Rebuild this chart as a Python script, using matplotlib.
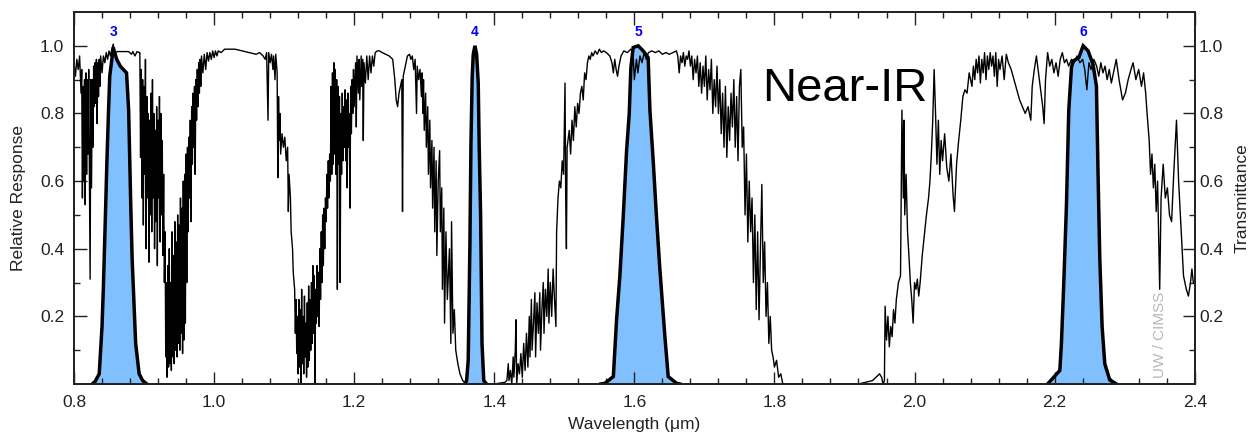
import numpy as np
import matplotlib
matplotlib.use('Agg')
import matplotlib.pyplot as plt
from matplotlib.ticker import MultipleLocator, FixedLocator, FormatStrFormatter

plt.rcParams['font.family'] = ['Liberation Sans', 'DejaVu Sans']

# spectral response of the near-IR bands (wavelength in um, relative response)
band_names = ['3', '4', '5', '6']

band3_wl = [0.826, 0.830, 0.836, 0.840, 0.842, 0.845, 0.847, 0.849, 0.851, 0.854, 0.856,
            0.861, 0.866, 0.875, 0.878, 0.881, 0.883, 0.888, 0.893, 0.898, 0.904]
band3_rsr = [0.0, 0.007, 0.03, 0.17, 0.29, 0.51, 0.66, 0.79, 0.91, 0.96, 0.995,
             0.96, 0.94, 0.92, 0.81, 0.53, 0.37, 0.12, 0.03, 0.01, 0.0]

band4_wl = [1.358, 1.3605, 1.3628, 1.3652, 1.3667, 1.3685, 1.370, 1.3724, 1.3748, 1.3771,
            1.3785, 1.3805, 1.3825, 1.385, 1.389]
band4_rsr = [0.0, 0.01, 0.07, 0.41, 0.71, 0.91, 0.975, 1.0, 0.975, 0.89,
             0.70, 0.50, 0.12, 0.01, 0.0]

band5_wl = [1.552, 1.558, 1.570, 1.5746, 1.5793, 1.584, 1.5889, 1.5927, 1.595, 1.5983, 1.6055,
            1.6126, 1.6197, 1.6222, 1.6269, 1.6317, 1.6364, 1.6436, 1.6483, 1.6603, 1.665]
band5_rsr = [0.0, 0.002, 0.022, 0.19, 0.32, 0.49, 0.69, 0.80, 0.935, 0.995, 1.0,
             0.985, 0.965, 0.81, 0.66, 0.49, 0.34, 0.14, 0.022, 0.002, 0.0]

band6_wl = [2.190, 2.193, 2.2074, 2.2097, 2.2131, 2.2169, 2.2202, 2.224, 2.2264, 2.2345,
            2.2407, 2.2478, 2.2549, 2.2597, 2.2621, 2.2645, 2.2678, 2.2716, 2.2787, 2.2883]
band6_rsr = [0.0, 0.007, 0.04, 0.12, 0.30, 0.53, 0.81, 0.935, 0.955, 0.965,
             1.0, 0.985, 0.945, 0.88, 0.61, 0.37, 0.17, 0.06, 0.012, 0.0]

# atmospheric transmittance (wavelength, transmittance)
transmittance = [
    (0.800, 0.95), (0.802, 0.91), (0.804, 0.96), (0.806, 0.93), (0.808, 0.97), (0.810, 0.86),
    (0.811, 0.93), (0.812, 0.55), (0.813, 0.88), (0.814, 0.60), (0.815, 0.90), (0.816, 0.53),
    (0.817, 0.92), (0.818, 0.62), (0.819, 0.90), (0.820, 0.68), (0.821, 0.93), (0.822, 0.60),
    (0.823, 0.31), (0.824, 0.90), (0.825, 0.58), (0.826, 0.90), (0.827, 0.70), (0.828, 0.94),
    (0.829, 0.82), (0.830, 0.95), (0.831, 0.83), (0.832, 0.96), (0.833, 0.77), (0.834, 0.95),
    (0.835, 0.85), (0.836, 0.96), (0.837, 0.88), (0.838, 0.97), (0.840, 0.92), (0.842, 0.97),
    (0.844, 0.95), (0.846, 0.98), (0.848, 0.96), (0.850, 0.985), (0.852, 0.97), (0.854, 0.99),
    (0.856, 1.005), (0.858, 0.98), (0.862, 0.983), (0.870, 0.983), (0.878, 0.983), (0.882, 0.975),
    (0.884, 0.983), (0.887, 0.97), (0.890, 0.983), (0.893, 0.98), (0.894, 0.98), (0.895, 0.67),
    (0.896, 0.93), (0.897, 0.55), (0.898, 0.90), (0.899, 0.47), (0.900, 0.88), (0.901, 0.62),
    (0.902, 0.96), (0.903, 0.40), (0.904, 0.85), (0.905, 0.55), (0.906, 0.80), (0.907, 0.36),
    (0.908, 0.78), (0.909, 0.50), (0.910, 0.86), (0.911, 0.45), (0.912, 0.90), (0.913, 0.55),
    (0.914, 0.80), (0.915, 0.40), (0.916, 0.75), (0.917, 0.48), (0.918, 0.82), (0.919, 0.35),
    (0.920, 0.78), (0.921, 0.55), (0.922, 0.85), (0.923, 0.42), (0.924, 0.80), (0.925, 0.50),
    (0.926, 0.72), (0.927, 0.38), (0.928, 0.62), (0.929, 0.30), (0.930, 0.45), (0.931, 0.08),
    (0.932, 0.30), (0.933, 0.02), (0.934, 0.35), (0.935, 0.05), (0.936, 0.40), (0.937, 0.06),
    (0.938, 0.30), (0.939, 0.04), (0.940, 0.45), (0.941, 0.08), (0.942, 0.38), (0.943, 0.06),
    (0.944, 0.48), (0.945, 0.10), (0.946, 0.42), (0.947, 0.08), (0.948, 0.50), (0.949, 0.12),
    (0.950, 0.47), (0.951, 0.10), (0.952, 0.55), (0.953, 0.15), (0.954, 0.52), (0.955, 0.09),
    (0.956, 0.60), (0.957, 0.13), (0.958, 0.62), (0.959, 0.18), (0.960, 0.68), (0.961, 0.30),
    (0.962, 0.70), (0.963, 0.45), (0.964, 0.73), (0.965, 0.55), (0.966, 0.78), (0.967, 0.48),
    (0.968, 0.82), (0.969, 0.65), (0.970, 0.86), (0.971, 0.70), (0.972, 0.88), (0.973, 0.62),
    (0.974, 0.90), (0.975, 0.78), (0.976, 0.93), (0.977, 0.82), (0.978, 0.95), (0.979, 0.86),
    (0.980, 0.96), (0.981, 0.88), (0.982, 0.97), (0.984, 0.92), (0.986, 0.975), (0.988, 0.93),
    (0.990, 0.98), (0.992, 0.955), (0.994, 0.98), (0.996, 0.96), (0.998, 0.985), (1.000, 0.965),
    (1.002, 0.985), (1.004, 0.97), (1.006, 0.985), (1.010, 0.98), (1.015, 0.99), (1.020, 0.99),
    (1.030, 0.99), (1.040, 0.985), (1.050, 0.98), (1.060, 0.975), (1.065, 0.98), (1.070, 0.97),
    (1.073, 0.96), (1.075, 0.98), (1.077, 0.78), (1.078, 0.98), (1.080, 0.95), (1.082, 0.975),
    (1.084, 0.93), (1.085, 0.97), (1.087, 0.90), (1.088, 0.975), (1.090, 0.92), (1.091, 0.61),
    (1.092, 0.85), (1.093, 0.72), (1.094, 0.80), (1.095, 0.68), (1.097, 0.74), (1.099, 0.70),
    (1.101, 0.73), (1.103, 0.66), (1.105, 0.70), (1.106, 0.51), (1.107, 0.62), (1.109, 0.55),
    (1.110, 0.45), (1.112, 0.40), (1.113, 0.33), (1.115, 0.28), (1.116, 0.15), (1.117, 0.25),
    (1.118, 0.09), (1.119, 0.20), (1.120, 0.03), (1.121, 0.25), (1.122, 0.05), (1.123, 0.22),
    (1.124, 0.00), (1.125, 0.28), (1.126, 0.06), (1.127, 0.20), (1.128, 0.03), (1.129, 0.26),
    (1.130, 0.08), (1.131, 0.18), (1.132, 0.02), (1.133, 0.24), (1.134, 0.05), (1.135, 0.29),
    (1.136, 0.07), (1.137, 0.25), (1.138, 0.10), (1.139, 0.30), (1.140, 0.12), (1.141, 0.35),
    (1.142, 0.15), (1.143, 0.32), (1.144, 0.00), (1.145, 0.28), (1.146, 0.18), (1.147, 0.35),
    (1.148, 0.20), (1.149, 0.33), (1.150, 0.17), (1.151, 0.40), (1.152, 0.25), (1.153, 0.45),
    (1.154, 0.30), (1.155, 0.50), (1.156, 0.35), (1.157, 0.52), (1.158, 0.40), (1.159, 0.55),
    (1.160, 0.48), (1.161, 0.62), (1.162, 0.52), (1.163, 0.66), (1.164, 0.55), (1.165, 0.68),
    (1.166, 0.60), (1.167, 0.88), (1.168, 0.62), (1.169, 0.92), (1.170, 0.65), (1.171, 0.95),
    (1.172, 0.68), (1.173, 0.93), (1.174, 0.62), (1.175, 0.90), (1.176, 0.28), (1.177, 0.88),
    (1.178, 0.65), (1.179, 0.85), (1.180, 0.30), (1.181, 0.80), (1.182, 0.62), (1.183, 0.86),
    (1.184, 0.66), (1.185, 0.82), (1.186, 0.70), (1.187, 0.87), (1.188, 0.66), (1.189, 0.84),
    (1.190, 0.58), (1.191, 0.86), (1.192, 0.70), (1.193, 0.80), (1.194, 0.52), (1.195, 0.88),
    (1.196, 0.74), (1.197, 0.90), (1.198, 0.80), (1.199, 0.93), (1.200, 0.82), (1.202, 0.95),
    (1.203, 0.76), (1.204, 0.97), (1.206, 0.86), (1.207, 0.96), (1.208, 0.84), (1.210, 0.97),
    (1.211, 0.88), (1.212, 0.96), (1.213, 0.72), (1.214, 0.95), (1.216, 0.89), (1.218, 0.97),
    (1.220, 0.90), (1.222, 0.97), (1.224, 0.92), (1.226, 0.97), (1.228, 0.94), (1.230, 0.98),
    (1.233, 0.985), (1.236, 0.985), (1.240, 0.98), (1.245, 0.975), (1.250, 0.97), (1.255, 0.96),
    (1.258, 0.90), (1.260, 0.84), (1.262, 0.82), (1.264, 0.86), (1.266, 0.88), (1.268, 0.90),
    (1.269, 0.51), (1.270, 0.91), (1.273, 0.94), (1.276, 0.97), (1.279, 0.975), (1.281, 0.96),
    (1.283, 0.97), (1.285, 0.93), (1.287, 0.96), (1.289, 0.80), (1.290, 0.94), (1.292, 0.90),
    (1.294, 0.93), (1.296, 0.85), (1.297, 0.92), (1.298, 0.80), (1.299, 0.90), (1.300, 0.75),
    (1.302, 0.86), (1.303, 0.70), (1.305, 0.82), (1.306, 0.62), (1.308, 0.78), (1.309, 0.58),
    (1.311, 0.72), (1.312, 0.52), (1.314, 0.70), (1.315, 0.45), (1.317, 0.66), (1.318, 0.38),
    (1.320, 0.60), (1.322, 0.69), (1.323, 0.45), (1.325, 0.58), (1.326, 0.28), (1.328, 0.52),
    (1.329, 0.18), (1.331, 0.45), (1.333, 0.25), (1.336, 0.40), (1.338, 0.12), (1.339, 0.48),
    (1.341, 0.15), (1.343, 0.22), (1.345, 0.10), (1.348, 0.06), (1.351, 0.03), (1.355, 0.01),
    (1.360, 0.0), (1.380, 0.0), (1.400, 0.0), (1.415, 0.005), (1.418, 0.01), (1.420, 0.06),
    (1.421, 0.01), (1.423, 0.04), (1.425, 0.0), (1.427, 0.08), (1.428, 0.02), (1.430, 0.10),
    (1.431, 0.19), (1.432, 0.0), (1.434, 0.06), (1.436, 0.03), (1.438, 0.09), (1.440, 0.02),
    (1.442, 0.12), (1.444, 0.04), (1.446, 0.15), (1.448, 0.05), (1.450, 0.20), (1.451, 0.08),
    (1.453, 0.25), (1.454, 0.10), (1.456, 0.18), (1.458, 0.27), (1.459, 0.08), (1.461, 0.24),
    (1.463, 0.15), (1.465, 0.27), (1.466, 0.10), (1.468, 0.22), (1.470, 0.30), (1.471, 0.15),
    (1.473, 0.28), (1.475, 0.20), (1.477, 0.34), (1.478, 0.18), (1.480, 0.30), (1.482, 0.20),
    (1.484, 0.34), (1.486, 0.25), (1.488, 0.17), (1.489, 0.45), (1.491, 0.55), (1.493, 0.60),
    (1.495, 0.58), (1.497, 0.66), (1.499, 0.62), (1.501, 0.89), (1.502, 0.55), (1.503, 0.40),
    (1.504, 0.70), (1.507, 0.75), (1.509, 0.68), (1.511, 0.78), (1.513, 0.72), (1.515, 0.82),
    (1.517, 0.76), (1.519, 0.83), (1.521, 0.80), (1.523, 0.86), (1.525, 0.88), (1.527, 0.84),
    (1.529, 0.92), (1.531, 0.90), (1.533, 0.95), (1.535, 0.97), (1.537, 0.96), (1.539, 0.98),
    (1.541, 0.97), (1.544, 0.985), (1.547, 0.975), (1.550, 0.99), (1.553, 0.98), (1.556, 0.985),
    (1.560, 0.98), (1.565, 0.97), (1.568, 0.95), (1.570, 0.92), (1.572, 0.96), (1.574, 0.93),
    (1.576, 0.91), (1.578, 0.94), (1.581, 0.97), (1.585, 0.985), (1.590, 0.98), (1.595, 0.99),
    (1.598, 0.985), (1.600, 0.90), (1.603, 0.96), (1.605, 0.92), (1.608, 0.97), (1.611, 0.95),
    (1.614, 0.98), (1.617, 0.96), (1.620, 0.98), (1.625, 0.985), (1.630, 0.98), (1.635, 0.985),
    (1.640, 0.975), (1.645, 0.98), (1.650, 0.975), (1.655, 0.98), (1.660, 0.985), (1.662, 0.97),
    (1.664, 0.92), (1.666, 0.97), (1.668, 0.95), (1.670, 0.98), (1.672, 0.94), (1.674, 0.97),
    (1.676, 0.96), (1.678, 0.985), (1.680, 0.94), (1.682, 0.97), (1.684, 0.90), (1.686, 0.96),
    (1.688, 0.92), (1.690, 0.97), (1.692, 0.88), (1.694, 0.95), (1.696, 0.86), (1.698, 0.94),
    (1.700, 0.88), (1.702, 0.97), (1.704, 0.84), (1.706, 0.93), (1.708, 0.87), (1.710, 0.96),
    (1.712, 0.80), (1.714, 0.90), (1.716, 0.82), (1.718, 0.94), (1.720, 0.80), (1.722, 0.90),
    (1.724, 0.74), (1.726, 0.86), (1.728, 0.70), (1.730, 0.88), (1.732, 0.67), (1.734, 0.82),
    (1.736, 0.72), (1.738, 0.86), (1.740, 0.76), (1.742, 0.90), (1.744, 0.70), (1.746, 0.85),
    (1.748, 0.66), (1.750, 0.88), (1.752, 0.93), (1.754, 0.70), (1.756, 0.76), (1.758, 0.50),
    (1.760, 0.68), (1.762, 0.42), (1.764, 0.60), (1.766, 0.45), (1.768, 0.55), (1.770, 0.30),
    (1.772, 0.50), (1.774, 0.22), (1.776, 0.45), (1.778, 0.19), (1.780, 0.40), (1.782, 0.59),
    (1.784, 0.30), (1.786, 0.42), (1.788, 0.20), (1.790, 0.30), (1.792, 0.12), (1.794, 0.20),
    (1.796, 0.10), (1.798, 0.08), (1.800, 0.05), (1.803, 0.07), (1.806, 0.02), (1.809, 0.03),
    (1.812, 0.0), (1.900, 0.0), (1.920, 0.0), (1.930, 0.005), (1.940, 0.01), (1.945, 0.02),
    (1.950, 0.03), (1.953, 0.02), (1.955, 0.0), (1.957, 0.01), (1.958, 0.23), (1.960, 0.13),
    (1.962, 0.20), (1.964, 0.11), (1.966, 0.17), (1.968, 0.14), (1.970, 0.22), (1.972, 0.18),
    (1.974, 0.25), (1.977, 0.30), (1.980, 0.32), (1.982, 0.81), (1.984, 0.55), (1.985, 0.78),
    (1.986, 0.50), (1.988, 0.62), (1.990, 0.45), (1.992, 0.38), (1.994, 0.30), (1.996, 0.25),
    (1.998, 0.18), (2.000, 0.30), (2.002, 0.28), (2.004, 0.31), (2.006, 0.26), (2.008, 0.30),
    (2.011, 0.38), (2.014, 0.44), (2.017, 0.50), (2.020, 0.55), (2.022, 0.60), (2.024, 0.68),
    (2.026, 0.78), (2.028, 0.93), (2.030, 0.80), (2.032, 0.65), (2.034, 0.78), (2.036, 0.62),
    (2.038, 0.72), (2.040, 0.66), (2.043, 0.74), (2.046, 0.64), (2.049, 0.60), (2.052, 0.68),
    (2.055, 0.56), (2.057, 0.51), (2.060, 0.65), (2.063, 0.72), (2.066, 0.78), (2.069, 0.85),
    (2.072, 0.87), (2.075, 0.86), (2.078, 0.92), (2.080, 0.90), (2.082, 0.88), (2.084, 0.94),
    (2.086, 0.90), (2.088, 0.96), (2.090, 0.92), (2.092, 0.97), (2.094, 0.89), (2.096, 0.96),
    (2.098, 0.92), (2.100, 0.98), (2.102, 0.90), (2.104, 0.97), (2.106, 0.93), (2.108, 0.98),
    (2.110, 0.94), (2.112, 0.97), (2.114, 0.91), (2.116, 0.98), (2.118, 0.88), (2.120, 0.96),
    (2.122, 0.93), (2.125, 0.97), (2.128, 0.90), (2.131, 0.975), (2.134, 0.95), (2.138, 0.93),
    (2.142, 0.90), (2.146, 0.87), (2.150, 0.84), (2.154, 0.82), (2.158, 0.80), (2.162, 0.82),
    (2.166, 0.78), (2.168, 0.88), (2.171, 0.93), (2.174, 0.97), (2.177, 0.92), (2.180, 0.87),
    (2.183, 0.82), (2.185, 0.77), (2.187, 0.90), (2.190, 0.98), (2.193, 0.94), (2.196, 0.96),
    (2.199, 0.92), (2.202, 0.95), (2.205, 0.91), (2.208, 0.96), (2.211, 0.98), (2.214, 0.95),
    (2.217, 0.96), (2.220, 0.94), (2.224, 0.96), (2.228, 0.95), (2.232, 0.97), (2.236, 0.95),
    (2.240, 0.96), (2.243, 0.93), (2.246, 0.87), (2.249, 0.95), (2.252, 0.93), (2.256, 0.96),
    (2.260, 0.94), (2.263, 0.91), (2.266, 0.95), (2.269, 0.92), (2.272, 0.94), (2.275, 0.90),
    (2.278, 0.93), (2.281, 0.89), (2.284, 0.92), (2.288, 0.96), (2.292, 0.90), (2.297, 0.84),
    (2.301, 0.86), (2.305, 0.90), (2.309, 0.93), (2.312, 0.95), (2.316, 0.90), (2.320, 0.93),
    (2.324, 0.88), (2.327, 0.92), (2.330, 0.86), (2.332, 0.80), (2.335, 0.72), (2.337, 0.62),
    (2.339, 0.68), (2.341, 0.58), (2.343, 0.65), (2.345, 0.51), (2.347, 0.60), (2.350, 0.28),
    (2.352, 0.55), (2.355, 0.65), (2.358, 0.55), (2.361, 0.58), (2.364, 0.50), (2.367, 0.48),
    (2.370, 0.62), (2.374, 0.78), (2.377, 0.60), (2.380, 0.48), (2.384, 0.32), (2.388, 0.28),
    (2.391, 0.26), (2.394, 0.30), (2.396, 0.34), (2.398, 0.30), (2.400, 0.30),
]

trans_wl = [p[0] for p in transmittance]
trans_val = [p[1] for p in transmittance]

bands = [(band3_wl, band3_rsr), (band4_wl, band4_rsr),
         (band5_wl, band5_rsr), (band6_wl, band6_rsr)]

fig = plt.figure(figsize=(12.48, 4.38), dpi=100)
ax = fig.add_axes([0.0593, 0.1233, 0.898, 0.8493])

for wl, rsr in bands:
    ax.fill_between(wl, rsr, 0, color='#80c0ff', lw=0, zorder=1)

ax.plot(trans_wl, trans_val, color='black', lw=1.0, zorder=2)

for (wl, rsr), name in zip(bands, band_names):
    ax.plot(wl, rsr, color='black', lw=2.5, zorder=3, solid_joinstyle='miter')
    peak = wl[int(np.argmax(rsr))]
    ax.text(peak, 1.04, name, color='#0000ff', fontweight='bold', fontsize=10,
            ha='center', va='center')

ax.set_xlim(0.8, 2.4)
ax.set_ylim(0, 1.1)

ax.xaxis.set_major_locator(MultipleLocator(0.2))
ax.xaxis.set_minor_locator(MultipleLocator(0.04))
ax.xaxis.set_major_formatter(FormatStrFormatter('%.1f'))
ax.yaxis.set_major_locator(FixedLocator([0.2, 0.4, 0.6, 0.8, 1.0]))
ax.yaxis.set_minor_locator(FixedLocator([0.1, 0.3, 0.5, 0.7, 0.9]))
ax.yaxis.set_major_formatter(FormatStrFormatter('%.1f'))

ax.tick_params(which='both', direction='in', top=True, right=False, width=1, colors='#222222')
ax.tick_params(which='major', length=9)
ax.tick_params(which='minor', length=4.5)
ax.tick_params(axis='x', which='major', pad=8, labelsize=12.5)
ax.tick_params(axis='y', which='major', pad=7, labelsize=12.5)

for s in ax.spines.values():
    s.set_linewidth(1.3)
    s.set_color('#222222')

ax.set_xlabel('Wavelength (\u03bcm)', fontsize=12.5, color='#222222', labelpad=5)
ax.set_ylabel('Relative Response', fontsize=12.5, color='#222222', labelpad=10)

ax2 = ax.twinx()
ax2.set_ylim(0, 1.1)
ax2.yaxis.set_major_locator(FixedLocator([0.2, 0.4, 0.6, 0.8, 1.0]))
ax2.yaxis.set_minor_locator(FixedLocator([0.1, 0.3, 0.5, 0.7, 0.9]))
ax2.yaxis.set_major_formatter(FormatStrFormatter('%.1f'))
ax2.tick_params(which='both', direction='in', width=1, colors='#222222')
ax2.tick_params(which='major', length=9, pad=3, labelsize=12.5)
ax2.tick_params(which='minor', length=4.5)
ax2.set_ylabel('Transmittance', fontsize=12.5, color='#222222', labelpad=8)
for s in ax2.spines.values():
    s.set_linewidth(1.3)
    s.set_color('#222222')

ax.text(1.783, 0.873, 'Near-IR', fontsize=34, ha='left', va='center', color='black')
ax.text(2.350, 0.018, 'UW / CIMSS', rotation=90, color='#b8b8b8', fontsize=11,
        ha='center', va='bottom')

fig.savefig('out.png', dpi=100)
